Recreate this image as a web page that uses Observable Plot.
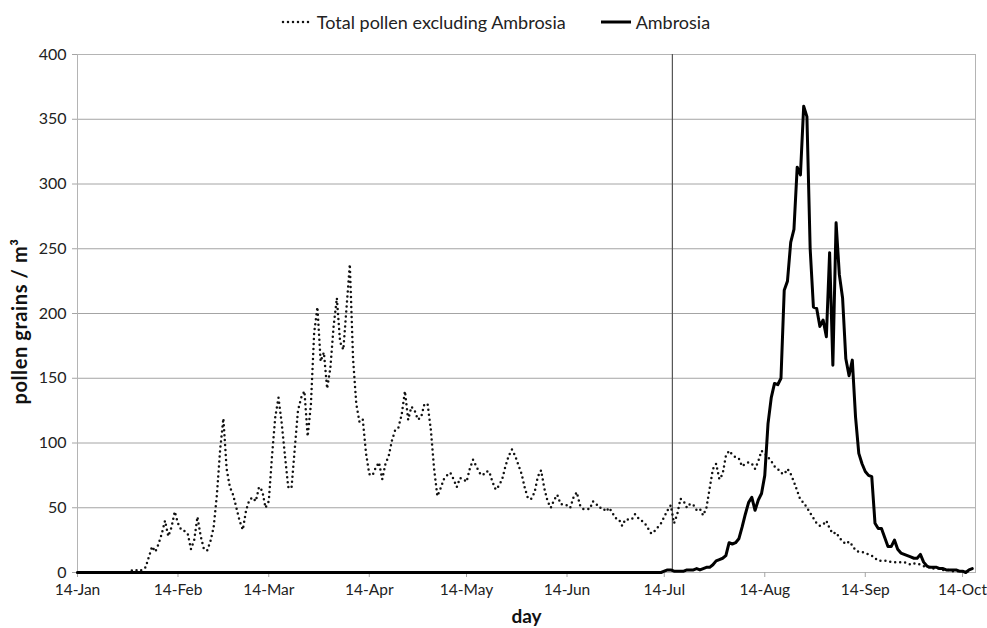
<!DOCTYPE html>
<html>
<head>
<meta charset="utf-8">
<script src="https://cdn.jsdelivr.net/npm/d3@7"></script>
<script src="https://cdn.jsdelivr.net/npm/@observablehq/plot@0.6"></script>
<style>
  html, body { margin: 0; padding: 0; background: #fff; }
  body { width: 987px; height: 628px; overflow: hidden; font-family: Lato, "Open Sans", sans-serif; }
  #legend { height: 44px; display: flex; justify-content: center; align-items: center; gap: 34px; font-size: 18px; color: #222; padding-left: 4px; }
  #legend span { display: flex; align-items: center; }
  #legend svg { margin-right: 4px; }
</style>
</head>
<body>
<div id="legend"></div>
<div id="chart"></div>
<script>
// ---- data ----
const startDate = "2015-01-14";   // first day of the series
const endDate = "2015-10-18";     // right end of the axis
const markerDate = "2015-07-16T12:00";
const tickDates = ["2015-01-14","2015-02-14","2015-03-14","2015-04-14","2015-05-14","2015-06-14","2015-07-14","2015-08-14","2015-09-14","2015-10-14"];
const yTicks = [0, 50, 100, 150, 200, 250, 300, 350, 400];
const seriesNames = ["Total pollen excluding Ambrosia", "Ambrosia"];
const yTitle = "pollen grains / m³";
const xTitle = "day";

// daily values from 14-Jan onwards
const totalPollen = [
  0,0,0,0,0,0,0,0,0,0,0,0,0,0,0,0,0,2,2,1,2,4,12,20,16,22,30,40,28,35,
  47,38,33,32,30,18,25,43,28,18,17,24,35,60,95,119,80,66,60,50,40,33,48,56,58,55,66,63,50,55,
  90,120,135,115,90,66,65,95,125,135,140,105,130,185,205,163,170,142,158,190,212,178,172,205,238,165,130,116,118,92,
  76,75,81,85,72,84,90,102,110,112,122,140,118,128,125,118,120,130,130,110,80,59,65,72,75,77,72,66,73,72,
  70,80,87,82,77,75,78,78,70,64,67,72,82,90,95,90,83,76,65,57,57,62,74,79,65,55,50,56,60,53,
  52,52,50,58,62,52,49,49,49,55,53,50,50,47,50,46,42,41,36,41,41,41,45,42,40,38,34,30,32,35,
  38,43,48,52,38,45,57,55,50,53,52,48,49,44,50,65,80,84,72,76,90,94,91,89,88,82,84,85,84,80,
  86,94,92,89,86,82,80,77,76,80,76,70,63,56,54,50,46,42,38,36,37,40,34,30,31,27,24,22,24,21,
  17,16,16,15,14,13,11,9,9,9,9,8,8,8,8,8,7,6,7,7,6,5,4,4,3,3,3,2,2,2,
  1,1,1,1,1,1,1
];
const ambrosia = [
  0,0,0,0,0,0,0,0,0,0,0,0,0,0,0,0,0,0,0,0,0,0,0,0,0,0,0,0,0,0,
  0,0,0,0,0,0,0,0,0,0,0,0,0,0,0,0,0,0,0,0,0,0,0,0,0,0,0,0,0,0,
  0,0,0,0,0,0,0,0,0,0,0,0,0,0,0,0,0,0,0,0,0,0,0,0,0,0,0,0,0,0,
  0,0,0,0,0,0,0,0,0,0,0,0,0,0,0,0,0,0,0,0,0,0,0,0,0,0,0,0,0,0,
  0,0,0,0,0,0,0,0,0,0,0,0,0,0,0,0,0,0,0,0,0,0,0,0,0,0,0,0,0,0,
  0,0,0,0,0,0,0,0,0,0,0,0,0,0,0,0,0,0,0,0,0,0,0,0,0,0,0,0,0,0,
  0,1,2,2,1,1,1,1,2,2,2,3,2,3,4,4,6,9,10,11,13,23,22,23,26,35,45,54,58,48,
  56,61,75,115,135,146,145,150,218,225,255,265,313,307,360,352,250,205,204,190,195,182,247,160,270,230,212,165,152,164,
  120,92,84,78,75,74,38,34,34,27,20,20,25,18,15,14,13,12,11,11,14,8,5,4,4,4,3,3,2,2,
  2,2,1,1,0,2,3
];

// ---- table ----
const start = new Date(startDate + "T00:00Z");
const rows = totalPollen.map((v, i) => ({
  date: d3.utcDay.offset(start, i),
  total: v,
  ambrosia: ambrosia[i]
}));

// ---- legend ----
const legend = document.getElementById("legend");
legend.innerHTML =
  `<span><svg width="32" height="10"><line x1="2" x2="31" y1="5" y2="5" stroke="#111" stroke-width="2.5" stroke-linecap="round" stroke-dasharray="0,5"/></svg>${seriesNames[0]}</span>` +
  `<span><svg width="32" height="10"><line x1="1" x2="31" y1="5" y2="5" stroke="#000" stroke-width="3"/></svg>${seriesNames[1]}</span>`;

// ---- chart ----
const chart = Plot.plot({
  width: 987,
  height: 584,
  marginTop: 10,
  marginBottom: 56,
  marginLeft: 77,
  marginRight: 12,
  style: { fontFamily: "Lato, 'Open Sans', sans-serif", fontSize: "16px", color: "#222", background: "#fff", overflow: "visible" },
  x: { type: "utc", domain: [new Date(startDate + "T00:00Z"), new Date(endDate + "T00:00Z")] },
  y: { domain: [0, 400] },
  marks: [
    Plot.gridY(yTicks, { stroke: "#a4a4a4", strokeOpacity: 1, strokeWidth: 1 }),
    Plot.frame({ stroke: "#b4b4b4" }),
    Plot.axisY(yTicks, { tickSize: 5, tickPadding: 6, stroke: "#a4a4a4", fill: "#222", label: null, fontSize: 16 }),
    Plot.axisX(tickDates.map(d => new Date(d + "T00:00Z")), { tickSize: 5, tickPadding: 6, stroke: "#a4a4a4", fill: "#222", label: null, tickFormat: d3.utcFormat("%-d-%b"), fontSize: 15.5 }),
    Plot.ruleX([new Date(markerDate + "Z")], { y1: 0, y2: 400, stroke: "#555", strokeWidth: 1.2 }),
    Plot.line(rows, { x: "date", y: "total", stroke: "#111", strokeWidth: 2.5, strokeLinecap: "round", strokeDasharray: "0,5" }),
    Plot.line(rows, { x: "date", y: "ambrosia", stroke: "#000", strokeWidth: 3, strokeLinejoin: "round" }),
    Plot.text([yTitle], { frameAnchor: "left", textAnchor: "middle", dx: -57, dy: 8, rotate: -90, fontWeight: "bold", fontSize: 20, fill: "#111", className: "ytitle" }),
    Plot.text([xTitle], { frameAnchor: "bottom", dy: 50, fontWeight: "bold", fontSize: 19, fill: "#111" })
  ]
});
d3.select(chart).selectAll(".ytitle text").style("letter-spacing", "0.6px");
document.getElementById("chart").appendChild(chart);
</script>
</body>
</html>
